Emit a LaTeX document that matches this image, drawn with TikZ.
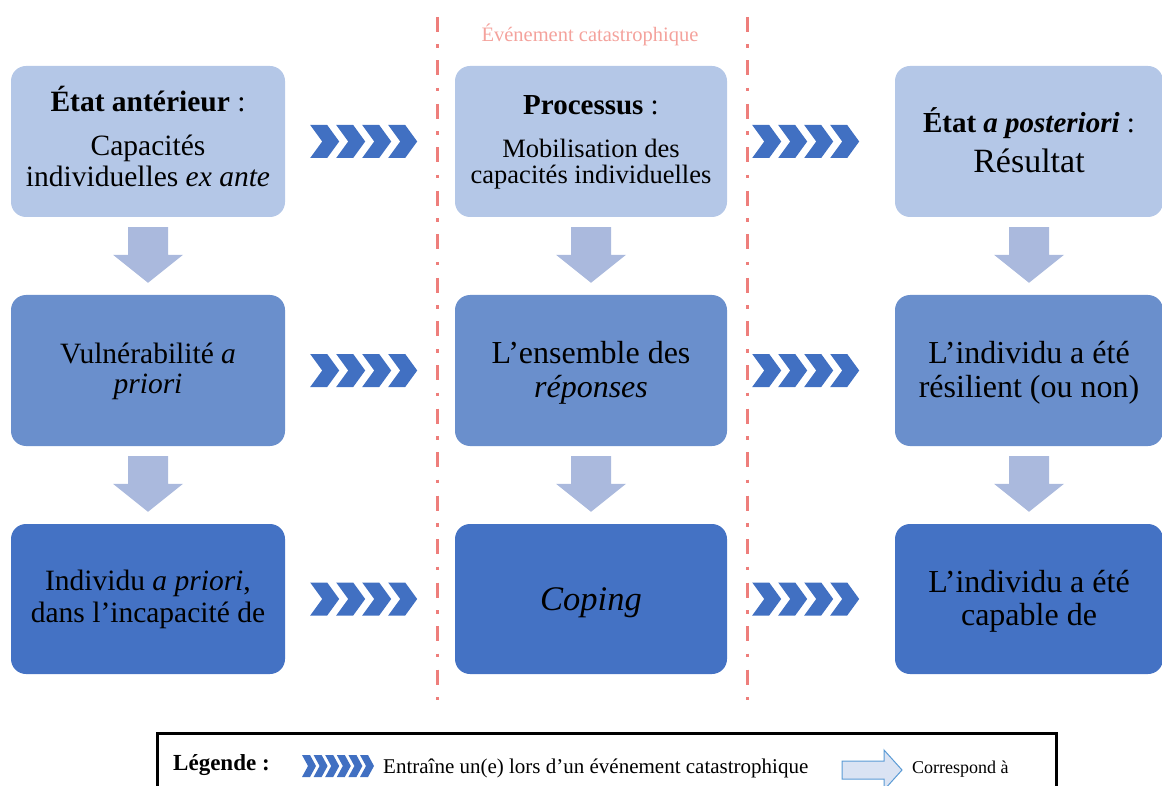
\documentclass[tikz,border=0pt]{standalone}
\usepackage{fontspec}
\setmainfont{Liberation Serif}
\usetikzlibrary{calc}
\definecolor{rowA}{HTML}{B4C7E7}
\definecolor{rowB}{HTML}{6A8FCC}
\definecolor{rowC}{HTML}{4472C4}
\definecolor{downc}{HTML}{AAB9DD}
\definecolor{chev}{HTML}{4170C2}
\definecolor{redline}{HTML}{EE7E7B}
\definecolor{redtext}{HTML}{F4A29C}
\definecolor{legfill}{HTML}{DAE3F3}
\definecolor{legline}{HTML}{5B9BD5}
\newcommand\fsz[1]{\fontsize{#1}{#1}\selectfont}
\newcommand\blockdown[2]{%
  \fill[downc] let \p1=(#1.south), \p2=(#2.north) in
    (\x1-20pt,\y1-10pt) -- (\x1+20pt,\y1-10pt) -- (\x1+20pt,\y2+40pt) --
    (\x1+35pt,\y2+40pt) -- (\x1,\y2+12pt) -- (\x1-35pt,\y2+40pt) --
    (\x1-20pt,\y2+40pt) -- cycle;}
\newcommand\chevrons[2]{%
  \foreach \i in {0,...,3}{%
    \fill[chev] let \p1=(#1.east), \p2=(#2.west) in
      (\x1+25pt+\i*26pt,\y2+16.5pt) -- ++(17pt,0pt) -- ++(12pt,-16.5pt) --
      ++(-12pt,-16.5pt) -- ++(-17pt,0pt) -- ++(12pt,16.5pt) -- cycle;}}
\tikzset{
  box/.style={rectangle, rounded corners=15, minimum height=151, inner sep=0pt, draw=none},
  txt/.style={anchor=base, inner sep=0pt, text=black},
}
\begin{document}
\begin{tikzpicture}[x=1pt,y=-1pt]
\useasboundingbox (0,0) rectangle (1162,786);
\clip (0,0) rectangle (1162,786);
% boxes
\node[box, minimum width=274, fill=rowA] (b11) at (148,141.5) {};
\node[box, minimum width=272, fill=rowA] (b12) at (591,141.5) {};
\node[box, minimum width=268, fill=rowA] (b13) at (1029,141.5) {};
\node[box, minimum width=274, fill=rowB] (b21) at (148,370.5) {};
\node[box, minimum width=272, fill=rowB] (b22) at (591,370.5) {};
\node[box, minimum width=268, fill=rowB] (b23) at (1029,370.5) {};
\node[box, minimum width=274, minimum height=150, fill=rowC] (b31) at (148,599) {};
\node[box, minimum width=272, minimum height=150, fill=rowC] (b32) at (591,599) {};
\node[box, minimum width=268, minimum height=150, fill=rowC] (b33) at (1029,599) {};
% texts row 1
\node[txt, font=\fsz{29.5}] (t11a) at (148,112) {\textbf{État antérieur} :};
\node[txt, font=\fsz{29.5}] (t11b) at (148,156) {Capacités};
\node[txt, font=\fsz{29.5}] (t11c) at (148,187) {individuelles \textit{ex ante}};
\node[txt, font=\fsz{29}] (t12a) at (591,115) {\textbf{Processus} :};
\node[txt, font=\fsz{26.5}] (t12b) at (591,158) {Mobilisation des};
\node[txt, font=\fsz{26.5}] (t12c) at (591,184) {capacités individuelles};
\node[txt, font=\fsz{29}] (t13a) at (1029,133) {\textbf{État \textit{a posteriori}} :};
\node[txt, font=\fsz{34}] (t13b) at (1029,173) {Résultat};
% texts row 2
\node[txt, font=\fsz{29.5}] (t21a) at (148,363) {Vulnérabilité \textit{a}};
\node[txt, font=\fsz{29.5}] (t21b) at (148,393) {\textit{priori}};
\node[txt, font=\fsz{32}] (t22a) at (591,363) {L’ensemble des};
\node[txt, font=\fsz{32}] (t22b) at (591,397) {\textit{réponses}};
\node[txt, font=\fsz{32}] (t23a) at (1029,363) {L’individu a été};
\node[txt, font=\fsz{32}] (t23b) at (1029,397) {résilient (ou non)};
% texts row 3
\node[txt, font=\fsz{29.5}] (t31a) at (148,590) {Individu \textit{a priori},};
\node[txt, font=\fsz{29.5}] (t31b) at (148,622) {dans l’incapacité de};
\node[txt, font=\fsz{34.5}] (t32a) at (591,610) {\textit{Coping}};
\node[txt, font=\fsz{32}] (t33a) at (1029,592) {L’individu a été};
\node[txt, font=\fsz{32}] (t33b) at (1029,625) {capable de};
% down arrows
\blockdown{b11}{b21}
\blockdown{b21}{b31}
\blockdown{b12}{b22}
\blockdown{b22}{b32}
\blockdown{b13}{b23}
\blockdown{b23}{b33}
% chevrons
\chevrons{b11}{b12}
\chevrons{b21}{b22}
\chevrons{b31}{b32}
\chevrons{b12}{b13}
\chevrons{b22}{b23}
\chevrons{b32}{b33}
% dashed lines
\coordinate (l1t) at (437,17);
\coordinate (l1b) at (437,700);
\coordinate (l2t) at (747,17);
\coordinate (l2b) at (747,700);
\draw[redline, line width=3, dash pattern=on 15pt off 12.5pt on 3.5pt off 12.5pt] (l1t) -- (l1b);
\draw[redline, line width=3, dash pattern=on 15pt off 12.5pt on 3.5pt off 12.5pt] (l2t) -- (l2b);
\node[txt, font=\fsz{20.5}, text=redtext] (evt) at (590,42) {Événement catastrophique};
% legend
\node[draw=black, line width=2.5, minimum width=899, minimum height=90, anchor=north west, inner sep=0pt] (legend) at (156,732) {};
\node[anchor=base west, inner sep=0pt, font=\fsz{23}] (leg1) at (173,770) {\textbf{Légende :}};
\foreach \i in {0,...,5}{%
  \fill[chev] (302+\i*11.6,755) -- ++(8,0) -- ++(6,11) -- ++(-6,11) -- ++(-8,0) -- ++(6,-11) -- cycle;}
\node[anchor=base west, inner sep=0pt, font=\fsz{21}] (leg2) at (383,773) {Entraîne un(e) lors d’un événement catastrophique};
\draw[legline, fill=legfill, line width=1] (842,761) -- (884,761) -- (884,750) -- (902,770) -- (884,790) -- (884,779) -- (842,779) -- cycle;
\node[anchor=base west, inner sep=0pt, font=\fsz{18}] (leg3) at (912,773) {Correspond à};
\end{tikzpicture}
\end{document}
